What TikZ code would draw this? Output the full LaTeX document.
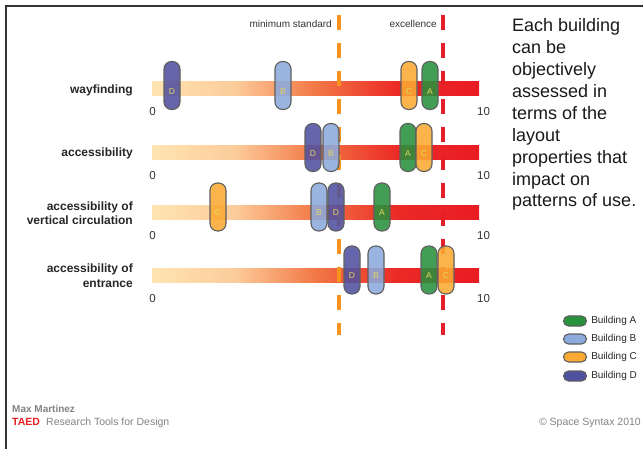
\documentclass[tikz,border=0pt]{standalone}
\usepackage{fontspec}
\setmainfont{Liberation Sans}
\usetikzlibrary{positioning}

\definecolor{colA}{RGB}{40,145,60}
\definecolor{colB}{RGB}{140,170,220}
\definecolor{colC}{RGB}{250,170,50}
\definecolor{colD}{RGB}{80,80,160}
\definecolor{pillline}{RGB}{95,95,95}
\definecolor{pilltext}{RGB}{225,215,95}
\definecolor{peach}{RGB}{255,228,178}
\definecolor{lightorg}{RGB}{252,205,155}
\definecolor{midorg}{RGB}{242,120,70}
\definecolor{barred}{RGB}{235,42,38}
\definecolor{darkred}{RGB}{233,28,36}
\definecolor{mincol}{RGB}{247,148,30}
\definecolor{exccol}{RGB}{230,30,40}
\definecolor{footgray}{RGB}{130,130,130}
\definecolor{taedred}{RGB}{235,30,35}

\pgfdeclarehorizontalshading{barshade}{100bp}{color(0bp)=(peach); color(25bp)=(peach);
  color(37.5bp)=(lightorg); color(50bp)=(midorg); color(62.5bp)=(barred);
  color(75bp)=(darkred); color(100bp)=(darkred)}

\tikzset{every node/.style={inner sep=0pt,font=\fontsize{10}{12}\selectfont},
  frame/.style={draw=black!80,line width=1.5pt},
  bar/.style={shading=barshade,minimum width=327,minimum height=14},
  numlab/.style={text=black!80,font=\fontsize{11.5}{13}\selectfont},
  rowlab/.style={anchor=east,align=right,text=black!85,font=\fontsize{12}{14.5}\selectfont\bfseries},
  mindash/.style={draw=mincol,line width=3.5pt,dash pattern=on 15pt off 13pt},
  excdash/.style={draw=exccol,line width=3.5pt,dash pattern=on 15pt off 13pt},
  dashlab/.style={anchor=east,text=black!80,font=\fontsize{10}{12}\selectfont},
  pill/.style={draw=pillline,line width=1.1pt,fill=col#1,fill opacity=.88,
    rounded corners=7.5pt,minimum width=16,minimum height=48,label={[pilltxt]center:#1}},
  pilltxt/.style={yshift=-6pt,text=pilltext,font=\fontsize{8.5}{9}\selectfont},
  legpill/.style={draw=pillline,line width=1.1pt,fill=col#1,rounded corners=5pt,
    minimum width=23,minimum height=10},
  legtxt/.style={text=black!85,font=\fontsize{10}{12}\selectfont},
  note/.style={anchor=base west,align=left,text=black!90,font=\fontsize{18}{21.9}\selectfont},
  foot/.style={anchor=base west,text=footgray,font=\fontsize{10.5}{12}\selectfont}}

\begin{document}
\begin{tikzpicture}[x=1pt,y=-1pt]
    \useasboundingbox (0,0) rectangle (643,449);
    \draw[frame] (643,6) -- (6,6) -- (6,449);
    % bars and their scale
    \foreach \r/\y in {1/89,2/153,3/213,4/275.5}{
        \node[bar] (bar\r) at (315.5,\y) {};
        \node[numlab] (zero\r) at (152.5,\y+23) {0};
        \node[numlab] (ten\r) at (483.5,\y+23) {10};
    }
    \node[rowlab] (lab1) at (133,90) {wayfinding};
    \node[rowlab] (lab2) at (133,153) {accessibility};
    \node[rowlab] (lab3) at (133,213) {accessibility of\\vertical circulation};
    \node[rowlab] (lab4) at (133,275.5) {accessibility of\\entrance};
    % thresholds
    \coordinate (mintop) at (339,15);
    \coordinate (minbot) at (339,335);
    \coordinate (exctop) at (443,15);
    \coordinate (excbot) at (443,335);
    \draw[mindash] (mintop) -- (minbot);
    \draw[excdash] (exctop) -- (excbot);
    \node[dashlab] (minlab) at (332,24) {minimum standard};
    \node[dashlab] (exclab) at (437,24) {excellence};
    % buildings
    \foreach \x/\b in {172/D,283/B,409/C,430/A}
        \node[pill=\b] (way\b) at (\x,85.5) {};
    \foreach \x/\b in {313/D,331/B,408/A,424/C}
        \node[pill=\b] (acc\b) at (\x,147.5) {};
    \foreach \x/\b in {218/C,319/B,336/D,382/A}
        \node[pill=\b] (ver\b) at (\x,207) {};
    \foreach \x/\b in {352/D,376/B,429/A,446/C}
        \node[pill=\b] (ent\b) at (\x,270) {};
    % legend
    \foreach \y/\b in {321/A,339/B,357/C,376/D}{
        \node[legpill=\b] (leg\b) at (575,\y) {};
        \node[legtxt,right=4pt of leg\b] (legtxt\b) {Building \b};
    }
    \node[note] (note) at (512,207) {Each building\\can be\\objectively\\assessed in\\terms of the\\layout\\properties that\\impact on\\patterns of use.};
    % footer
    \node[foot,font=\fontsize{10}{12}\selectfont\bfseries] (author) at (12,412.5) {Max Martinez};
    \node[foot,text=taedred,font=\fontsize{10.5}{12}\selectfont\bfseries] (taed) at (12,425.5) {TAED};
    \node[foot] (tools) at (46,425.5) {Research Tools for Design};
    \node[foot,anchor=base east] (copy) at (641,425.5) {\textcopyright{} Space Syntax 2010};
\end{tikzpicture}
\end{document}
